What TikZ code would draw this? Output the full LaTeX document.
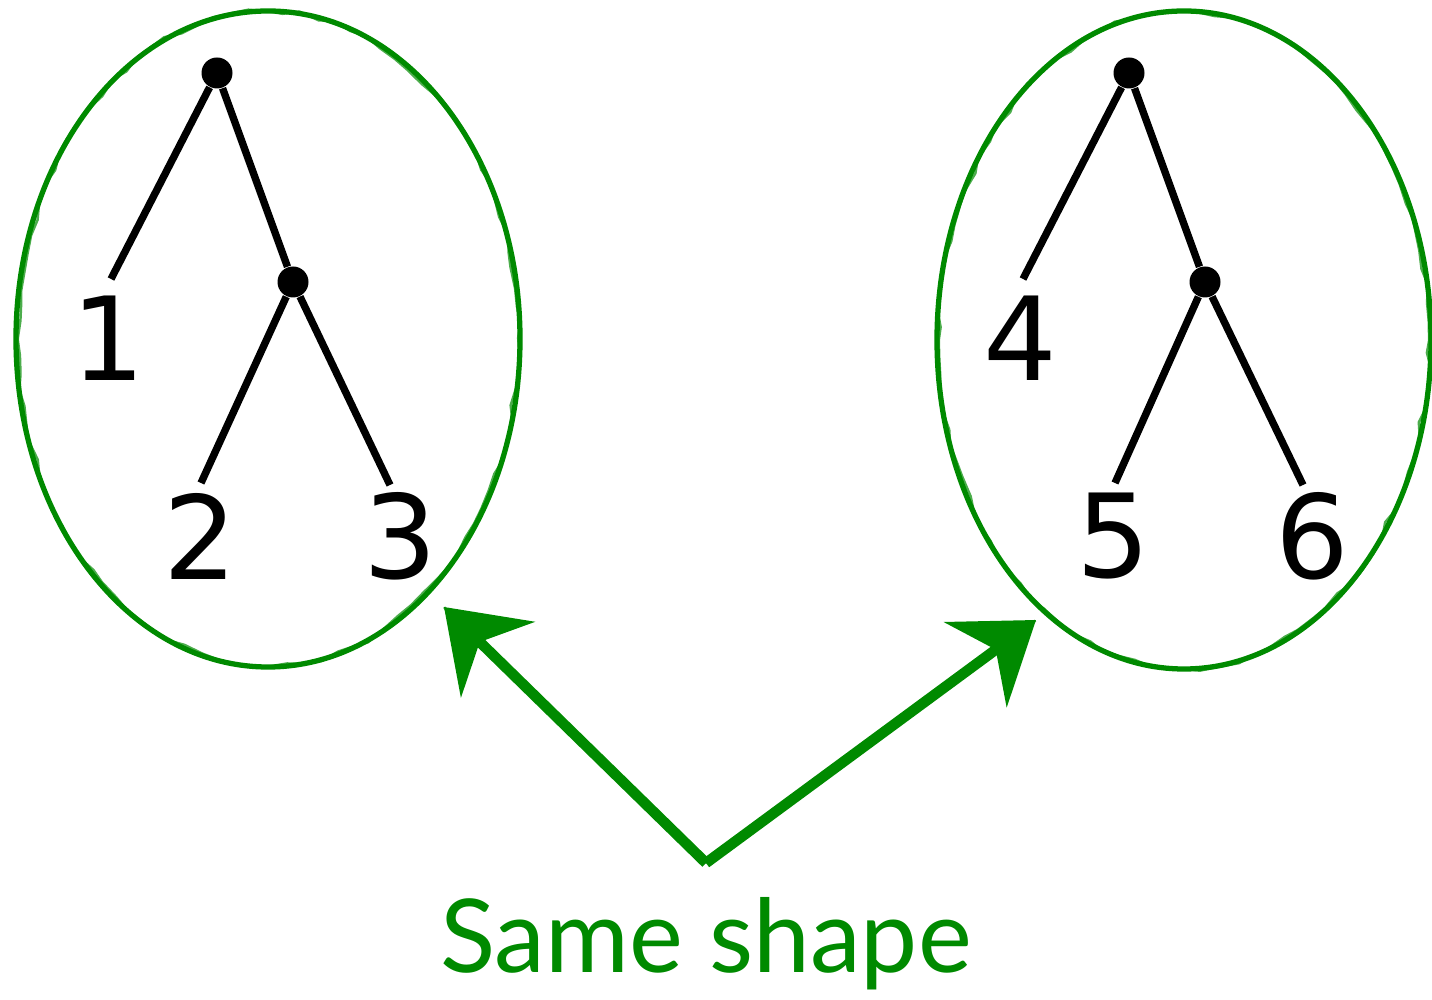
\documentclass[tikz,border=0pt]{standalone}
\usepackage{fontspec}
\newfontfamily\digitfont{DejaVu Sans}
\newfontfamily\notefont{Lato}
\usetikzlibrary{arrows.meta,decorations.pathmorphing}
\definecolor{sketchgreen}{RGB}{0,138,0}
\tikzset{
  branch/.style={line width=2.1pt},
  knot/.style={circle, fill=black, inner sep=0pt, minimum size=0.31cm},
  leaf/.style={font=\digitfont\fontsize{33}{33}\selectfont, inner sep=0pt},
  hoop/.style={sketchgreen, line width=1.5pt},
  rough/.style={sketchgreen, line width=0.7pt, opacity=0.7, decorate, decoration={random steps, segment length=5pt, amplitude=0.8pt}},
  pointer/.style={sketchgreen, line width=3pt, -{Stealth[length=7.5mm, width=10.5mm, inset=2.5mm]}}
}

\begin{document}
\begin{tikzpicture}[font=\notefont]
\useasboundingbox (0,0) rectangle (14.32,-10);
% left tree
\node[knot] (r1) at (2.17,-0.73) {}; \node[knot] (m1) at (2.93,-2.82) {};
\coordinate (e1) at (1.11,-2.79); \coordinate (e2) at (2.01,-4.83); \coordinate (e3) at (3.90,-4.85);
\draw[branch] (r1)--(e1); \draw[branch] (r1)--(m1); \draw[branch] (m1)--(e2); \draw[branch] (m1)--(e3);
\node[leaf] (n1) at (1.08,-3.38) {1}; \node[leaf] (n2) at (2.00,-5.36) {2}; \node[leaf] (n3) at (4.00,-5.36) {3};
% right tree
\node[knot] (r2) at (11.29,-0.73) {}; \node[knot] (m2) at (12.05,-2.82) {};
\coordinate (e4) at (10.23,-2.79); \coordinate (e5) at (11.15,-4.83); \coordinate (e6) at (13.03,-4.85);
\draw[branch] (r2)--(e4); \draw[branch] (r2)--(m2); \draw[branch] (m2)--(e5); \draw[branch] (m2)--(e6);
\node[leaf] (n4) at (10.20,-3.38) {4}; \node[leaf] (n5) at (11.13,-5.36) {5}; \node[leaf] (n6) at (13.12,-5.36) {6};
% hand drawn rings
\coordinate (c1) at (2.68,-3.39); \coordinate (c2) at (11.84,-3.40);
\draw[hoop] (c1) ellipse (2.52 and 3.28); \draw[rough] (c1) ellipse (2.50 and 3.27);
\draw[hoop] (c2) ellipse (2.47 and 3.29); \draw[rough] (c2) ellipse (2.45 and 3.28);
% arrows and caption
\coordinate (v) at (7.06,-8.63); \coordinate (t1) at (4.44,-6.07); \coordinate (t2) at (10.36,-6.20);
\draw[pointer] (v)--(t1); \draw[pointer] (v)--(t2);
\draw[rough] (v)--(t1); \draw[rough] (v)--(t2);
\node[sketchgreen, anchor=base, font=\notefont\fontsize{29}{29}\selectfont] (cap) at (7.06,-9.73) {Same shape};
\end{tikzpicture}
\end{document}
